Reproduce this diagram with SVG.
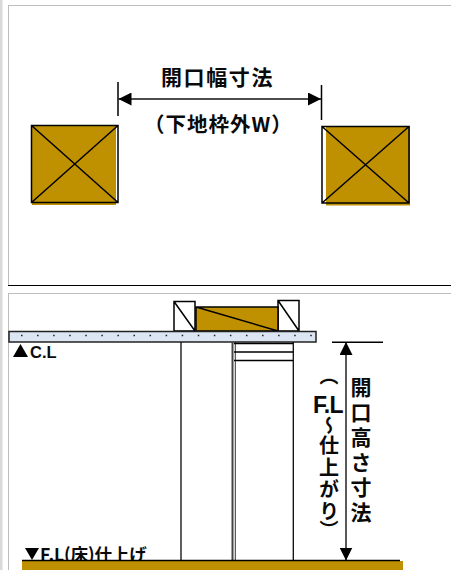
<svg xmlns="http://www.w3.org/2000/svg" width="451" height="570" viewBox="0 0 451 570">
<defs>
<style>
.t{font-family:"Noto Sans CJK JP","Liberation Sans",sans-serif;font-weight:700;fill:#0a0a0a}
.l{font-family:"Liberation Sans","Noto Sans CJK JP",sans-serif;font-weight:700;fill:#0a0a0a}
.v{writing-mode:vertical-rl}
.m{text-anchor:middle}
.k{stroke:#000;stroke-width:1.500;fill:none}
.s{stroke:#0a0a0a;stroke-width:1.300;fill:none}
.g{fill:#bf9000}
.f{fill:#bdbdbd}
</style>
<marker id="ah" viewBox="0 0 13 13" refX="13" refY="6.5" markerWidth="13" markerHeight="13" markerUnits="userSpaceOnUse" orient="auto-start-reverse"><path d="M0 0L13 6.5L0 13Z" fill="#000"/></marker>
</defs>
<rect width="451" height="570" fill="#fff"/>
<g id="frames">
<rect x="0" y="0" width="2.5" height="570" fill="#d9d9d9"/>
<rect x="8" y="5" width="1" height="280" class="f"/>
<rect x="8" y="5" width="443" height="1" class="f"/>
<rect x="8" y="285" width="443" height="1" fill="#000"/>
<rect x="8" y="293" width="443" height="1" class="f"/>
<rect x="8" y="293" width="1" height="277" class="f"/>
</g>
<g id="width-left-stud">
<rect x="32" y="125" width="84" height="80" class="g"/>
<path class="k" d="M31.500 125.500H118V202.500H31.500ZM31.500 125.500L118 202.500M118 125.500L31.500 202.500"/>
</g>
<g id="width-right-stud">
<rect x="326" y="126" width="84" height="79.500" class="g"/>
<path class="k" d="M322 126.500H409V203H322ZM322 126.500L409 203M409 126.500L322 203"/>
</g>
<g id="connectors">
<path class="k" d="M118 82V116M321.500 85V120"/>
<path d="M118.500 99H321" stroke="#111" stroke-width="1.500" marker-start="url(#ah)" marker-end="url(#ah)"/>
<path d="M346 342V560.500" stroke="#222" stroke-width="1.500" marker-start="url(#ah)" marker-end="url(#ah)"/>
<path class="k" stroke-width="1.300" d="M332 342.300H383"/>
</g>
<g id="width-labels">
<text class="t m" x="217.500" y="85" font-size="21" letter-spacing="1.600">開口幅寸法</text>
<text class="t" x="144" y="132" font-size="20.500" letter-spacing="1">（下地枠外W）</text>
</g>
<g id="head-frame">
<rect x="174" y="301" width="21" height="30" fill="#fff"/>
<path class="k" d="M174 301.500H195V331H174ZM174 301.500L195 331"/>
<rect x="278" y="300" width="21" height="31" fill="#fff"/>
<path class="k" d="M278 300.500H299V331H278ZM278 300.500L299 331"/>
<rect x="196" y="307" width="82" height="24" class="g"/>
<path class="k" d="M196 307H278V331H196ZM196 307L278 331"/>
</g>
<g id="ceiling-board">
<rect x="9" y="331.500" width="307" height="10.500" fill="#dce6f2" stroke="#222" stroke-width="1.500"/>
<path d="M21 335.500H312" stroke="#222" stroke-width="1.500" stroke-dasharray="1.500 14.570" fill="none"/>
</g>
<g id="door-frame">
<path class="s" d="M181 342V561M293.300 342V561"/>
<path d="M232.500 342V561" stroke="#444" stroke-width="2"/>
<path d="M235.300 342V561" stroke="#333" stroke-width="1"/>
<path class="k" d="M234 343.500H293M234 352H293M234 360.500H293"/>
</g>
<g id="cl-mark">
<path d="M13 357L20.500 344L28 357Z" fill="#000"/>
<text class="l" x="30" y="357.500" font-size="16.500">C.L</text>
</g>
<g id="fl-mark">
<path d="M25 548H39L32 560Z" fill="#000"/>
<text class="t" x="40" y="561" font-size="17.500" letter-spacing="-.1">F.L(床)仕上げ</text>
</g>
<g id="floor">
<rect x="22" y="561" width="381" height="9" class="g"/>
<path d="M22 560.500H400" stroke="#000" stroke-width="1.300"/>
</g>
<g id="height-labels">
<text class="t v" x="361" y="377" font-size="21" letter-spacing="4">開口高さ寸法</text>
<text class="t v" x="329" y="366" font-size="19">（</text>
<text class="l m" x="328" y="413" font-size="23" letter-spacing="-.6">F.L</text>
<text class="t v" x="329" y="416" font-size="19">～</text>
<text class="t v" x="329" y="435" font-size="20" letter-spacing="2">仕上がり</text>
<text class="t v" x="329" y="520" font-size="19">）</text>
</g>
</svg>
